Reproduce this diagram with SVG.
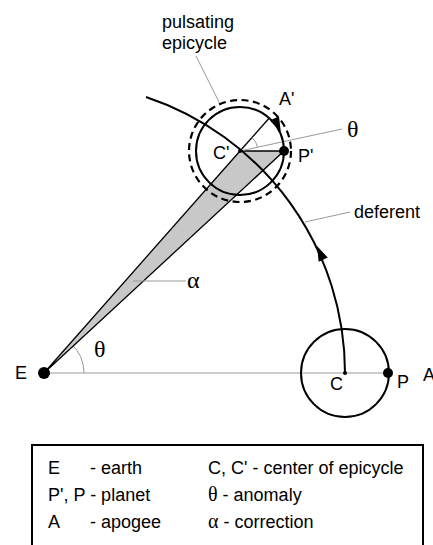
<svg xmlns="http://www.w3.org/2000/svg" width="433" height="545" viewBox="0 0 433 545">
<style>
.lbl{font-family:"Liberation Sans",Arial,sans-serif;font-size:18px;fill:#000}
.grk{font-family:"Liberation Serif","Times New Roman",serif;font-size:24px;fill:#000}
.grks{font-family:"Liberation Serif","Times New Roman",serif;font-size:20px}
.thin{stroke:#999;stroke-width:1;fill:none}
.bold{stroke:#000;stroke-width:2;fill:none}
.dot{fill:#000}
</style>
<defs>
<polygon id="ah" points="0,0 -15,-5 -15,5" fill="#000"/>
</defs>
<rect width="433" height="545" fill="#fff"/>

<g id="connectors">
  <line class="thin" x1="44" y1="373" x2="388" y2="373"/>
  <path class="thin" d="M84 373 A40 40 0 0 0 70.5 343.1"/>
  <polygon points="44,373 240,151 284,151" fill="#c8c8c8" stroke="#000" stroke-width="1.3" stroke-linejoin="round"/>
  <line x1="240" y1="151" x2="269.5" y2="117.8" stroke="#000" stroke-width="1.3"/>
  <line class="thin" x1="240" y1="151" x2="342" y2="129"/>
  <path class="thin" d="M251.9 137.5 A18 18 0 0 1 257.6 147.2"/>
  <path class="bold" d="M146 97 A291 291 0 0 1 345 373"/>
  <use href="#ah" transform="translate(317,246) rotate(-114.5)"/>
  <line class="thin" x1="305" y1="222" x2="350" y2="212"/>
  <line class="thin" x1="196" y1="56" x2="220" y2="104"/>
  <line class="thin" x1="133" y1="281" x2="186" y2="281"/>
</g>

<g id="epicycle-Cprime">
  <circle cx="240" cy="151" r="44" class="bold"/>
  <circle cx="240" cy="151" r="51" fill="none" stroke="#000" stroke-width="2.2" stroke-dasharray="7,4.5"/>
  <use href="#ah" transform="translate(280.8,132) rotate(65)"/>
  <circle cx="240" cy="151" r="2" class="dot"/>
  <text class="lbl" x="213" y="159">C'</text>
  <text class="lbl" x="279" y="105">A'</text>
</g>

<g id="planet-Pprime">
  <circle cx="284" cy="151" r="5" class="dot"/>
  <text class="lbl" x="298" y="162">P'</text>
</g>

<g id="epicycle-C">
  <circle cx="345" cy="373" r="44" class="bold"/>
  <circle cx="345" cy="373" r="2" class="dot"/>
  <text class="lbl" x="330" y="390">C</text>
</g>

<g id="planet-P">
  <circle cx="388" cy="373" r="5" class="dot"/>
  <text class="lbl" x="397" y="388">P</text>
  <text class="lbl" x="423" y="381">A</text>
</g>

<g id="earth">
  <circle cx="44" cy="373" r="6" class="dot"/>
  <text class="lbl" x="15" y="379">E</text>
</g>

<g id="labels">
  <text class="lbl" x="162" y="28">pulsating</text>
  <text class="lbl" x="162" y="49">epicycle</text>
  <text class="lbl" x="354" y="218">deferent</text>
  <text class="grk" x="94" y="357">θ</text>
  <text class="grk" x="347" y="137">θ</text>
  <text class="grk" x="187" y="288">α</text>
</g>

<g id="legend">
  <rect x="32" y="445" width="391" height="110" fill="none" stroke="#000" stroke-width="2"/>
  <text class="lbl" x="48" y="474">E</text>
  <text class="lbl" x="90" y="474">- earth</text>
  <text class="lbl" x="48" y="501">P', P - planet</text>
  <text class="lbl" x="48" y="528">A</text>
  <text class="lbl" x="90" y="528">- apogee</text>
  <text class="lbl" x="208" y="474">C, C' - center of epicycle</text>
  <text class="lbl" x="208" y="501"><tspan class="grks">θ</tspan> - anomaly</text>
  <text class="lbl" x="208" y="528"><tspan class="grks">α</tspan> - correction</text>
</g>
</svg>
